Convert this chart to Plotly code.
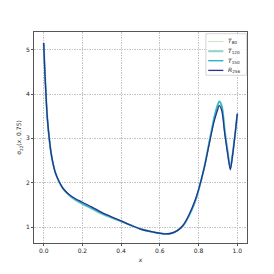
import plotly.graph_objects as go

x = [0.0, 0.005, 0.01, 0.015, 0.02, 0.03, 0.04, 0.05, 0.06, 0.08, 0.10, 0.13, 0.16, 0.20,
     0.25, 0.30, 0.35, 0.40, 0.45, 0.50, 0.55, 0.60, 0.63, 0.66, 0.69, 0.72, 0.75, 0.78,
     0.80, 0.83, 0.86, 0.88, 0.895, 0.907, 0.92, 0.935, 0.95, 0.964, 0.975, 0.99, 1.0]

r256 = [5.15, 4.60, 4.15, 3.72, 3.40, 2.95, 2.62, 2.40, 2.23, 2.02, 1.87, 1.74, 1.65, 1.56,
        1.45, 1.33, 1.23, 1.14, 1.04, 0.955, 0.90, 0.86, 0.845, 0.86, 0.92, 1.04, 1.27, 1.58,
        1.85, 2.35, 2.98, 3.38, 3.60, 3.74, 3.62, 3.10, 2.65, 2.29, 2.60, 3.15, 3.56]

t150 = [5.15, 4.60, 4.15, 3.72, 3.40, 2.95, 2.62, 2.40, 2.23, 2.02, 1.87, 1.73, 1.63, 1.53,
        1.42, 1.31, 1.22, 1.13, 1.04, 0.955, 0.90, 0.86, 0.845, 0.86, 0.92, 1.03, 1.25, 1.55,
        1.83, 2.35, 3.02, 3.45, 3.70, 3.83, 3.72, 3.18, 2.70, 2.33, 2.62, 3.15, 3.55]

t120 = [5.15, 4.60, 4.15, 3.72, 3.40, 2.95, 2.62, 2.40, 2.23, 2.02, 1.87, 1.72, 1.62, 1.52,
        1.41, 1.30, 1.21, 1.13, 1.04, 0.955, 0.90, 0.86, 0.845, 0.86, 0.92, 1.03, 1.25, 1.55,
        1.83, 2.36, 3.03, 3.46, 3.71, 3.84, 3.73, 3.19, 2.71, 2.34, 2.62, 3.15, 3.55]

t80 = [5.15, 4.60, 4.15, 3.72, 3.40, 2.95, 2.62, 2.40, 2.23, 2.02, 1.87, 1.72, 1.62, 1.51,
       1.40, 1.29, 1.21, 1.12, 1.04, 0.955, 0.90, 0.86, 0.845, 0.86, 0.92, 1.03, 1.25, 1.55,
       1.83, 2.36, 3.02, 3.45, 3.70, 3.82, 3.72, 3.18, 2.70, 2.33, 2.62, 3.15, 3.55]

series = [
    ("<i>T</i><sub>80</sub>", t80, "#c7e9b4", 1.0),
    ("<i>T</i><sub>120</sub>", t120, "#8fd4c4", 2.0),
    ("<i>T</i><sub>150</sub>", t150, "#2bb3c9", 1.4),
    ("<i>R</i><sub>256</sub>", r256, "#26348f", 1.3),
]

xticks = [0.0, 0.2, 0.4, 0.6, 0.8, 1.0]
yticks = [1, 2, 3, 4, 5]

fig = go.Figure()
for name, ys, col, w in series:
    fig.add_trace(go.Scatter(x=x, y=ys, mode="lines", name=name, showlegend=False,
                             line=dict(color=col, width=w, shape="spline", smoothing=0.8)))

# manual compact legend (plotly's legend rows have a large minimum height)
leg_x0, leg_x1, leg_y0, leg_y1 = 0.807, 0.998, 0.795, 0.992
fig.add_shape(type="rect", xref="x domain", yref="y domain",
              x0=leg_x0, x1=leg_x1, y0=leg_y0, y1=leg_y1,
              line=dict(color="#cccccc", width=0.8), fillcolor="rgba(255,255,255,0.85)", layer="above")
row_y = [0.955, 0.909, 0.864, 0.818]
for (name, ys, col, w), ry in zip(series, row_y):
    fig.add_shape(type="line", xref="x domain", yref="y domain",
                  x0=0.818, x1=0.889, y0=ry, y1=ry, line=dict(color=col, width=w), layer="above")
    fig.add_annotation(xref="x domain", yref="y domain", x=0.903, y=ry, text=name,
                       showarrow=False, xanchor="left", yanchor="middle",
                       font=dict(size=6, color="#222222"))

axis_common = dict(showline=True, linecolor="#555555", linewidth=1, mirror=True,
                   ticks="outside", ticklen=2, tickcolor="#555555",
                   showgrid=True, gridcolor="#c4c4c4", gridwidth=0.6, griddash="1.5px,1px",
                   zeroline=False, automargin=False, tickfont=dict(size=6, color="#222222"))

# the page body has an 8px default margin, so the figure is offset by 8px
fig.update_layout(
    width=274, height=274,
    margin=dict(l=26, r=35, t=24, b=39),
    paper_bgcolor="white", plot_bgcolor="white",
    font=dict(family="DejaVu Sans", size=6, color="#222222"),
    showlegend=False,
)
fig.update_xaxes(range=[-0.05, 1.05], tickvals=xticks, ticktext=[f"{v:.1f}" for v in xticks],
                 title=dict(text="<i>x</i>", standoff=4, font=dict(size=6)), **axis_common)
fig.update_yaxes(range=[0.64, 5.4], tickvals=yticks, ticktext=[str(v) for v in yticks],
                 title=dict(text="σ<sub>22</sub>(<i>x</i>, 0.75)", standoff=3, font=dict(size=6)),
                 **axis_common)

fig.write_html("out.html")
